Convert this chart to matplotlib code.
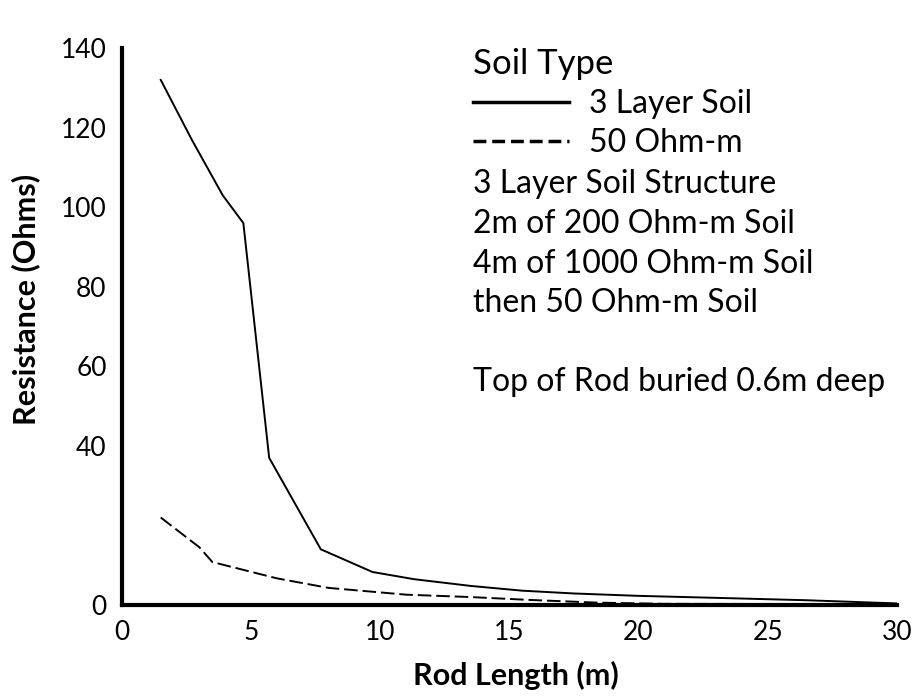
import matplotlib
matplotlib.use("Agg")
import matplotlib.pyplot as plt

# rod length (m) vs resistance (ohms)
rod_3layer = [1.5, 2.7, 3.9, 4.7, 5.7, 7.7, 9.7, 11.3, 13.5, 15.5, 17.5, 20, 23, 26.5, 30]
res_3layer = [132, 117, 103, 96, 37, 14, 8.3, 6.5, 4.8, 3.6, 2.9, 2.3, 1.8, 1.2, 0.4]

rod_50 = [1.5, 3.0, 3.5, 6, 8, 11, 13.5, 15.7, 18.4, 21, 30]
res_50 = [22, 14.5, 10.8, 6.7, 4.3, 2.6, 2.0, 1.3, 0.6, 0.3, 0.2]

xticks = [0, 5, 10, 15, 20, 25, 30]
yticks = [0, 40, 60, 80, 100, 120, 140]

notes = ["3 Layer Soil Structure",
         "2m of 200 Ohm-m Soil",
         "4m of 1000 Ohm-m Soil",
         "then 50 Ohm-m Soil"]
note_rod = "Top of Rod buried 0.6m deep"

plt.rcParams['font.family'] = 'Lato'

fig = plt.figure(figsize=(9.15, 7.0), dpi=100)
ax = fig.add_axes([0.1333, 0.1357, 0.8467, 0.7957])

ax.plot(rod_3layer, res_3layer, color='black', lw=1.4, label='3 Layer Soil')
ax.plot(rod_50, res_50, color='black', lw=1.4, dashes=(7, 2.5), label='50 Ohm-m')

ax.set_xlim(0, 30)
ax.set_ylim(0, 140)
ax.set_xticks(xticks)
ax.set_yticks(yticks)
ax.tick_params(length=0, labelsize=19)
ax.tick_params(axis='y', pad=11)
ax.tick_params(axis='x', pad=11)
for s in ['top', 'right']:
    ax.spines[s].set_visible(False)
for s in ['left', 'bottom']:
    ax.spines[s].set_linewidth(3)

ax.set_xlabel('Rod Length (m)', fontsize=22, fontweight='bold')
ax.set_ylabel('Resistance (Ohms)', fontsize=22, fontweight='bold')
ax.xaxis.set_label_coords(0.508, -0.10)
ax.yaxis.set_label_coords(-0.105, 0.548)

leg = ax.legend(loc='upper left', bbox_to_anchor=(0.453, 1.0), frameon=False,
                title='Soil Type', title_fontsize=25, fontsize=23,
                handlelength=3.0, handletextpad=0.63, labelspacing=0.28,
                borderpad=0, borderaxespad=0, alignment='left')
hl = leg.get_lines()
for h in hl:
    h.set_linewidth(2.5)
hl[1].set_dashes((3.7, 1.7))

ys = [0.755, 0.684, 0.612, 0.542]
for t, y in zip(notes, ys):
    ax.text(0.453, y, t, transform=ax.transAxes, fontsize=23, va='center')
ax.text(0.453, 0.40, note_rod, transform=ax.transAxes, fontsize=23, va='center')

fig.savefig('out.png', dpi=100)
